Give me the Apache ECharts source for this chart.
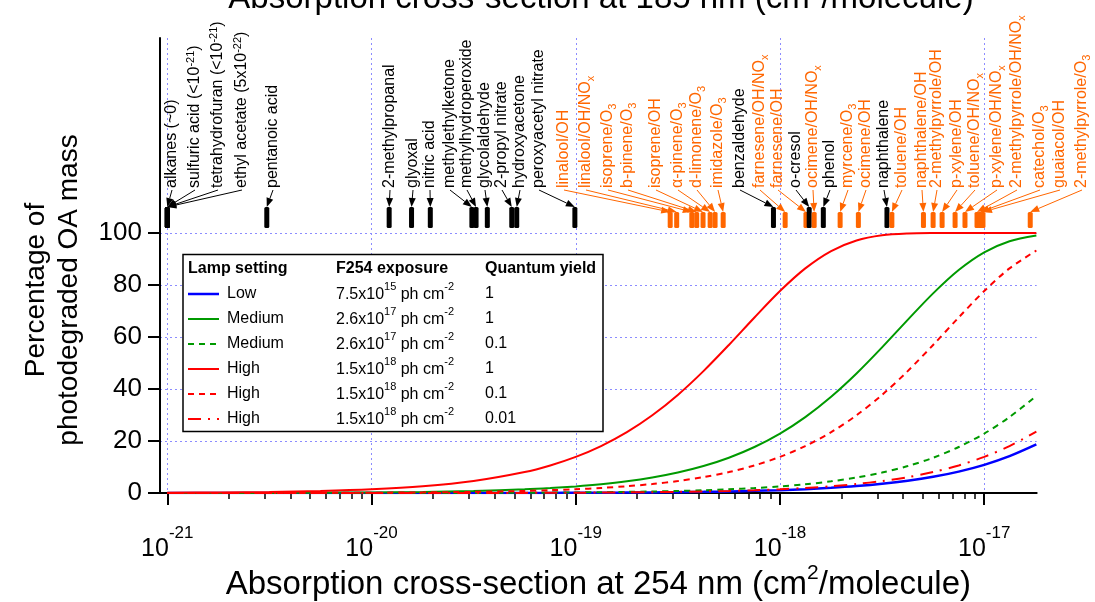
<!DOCTYPE html>
<html><head><meta charset="utf-8">
<script src="https://cdn.jsdelivr.net/npm/echarts@6/dist/echarts.min.js"></script>
<style>html,body{margin:0;padding:0;background:#fff}#c{width:1095px;height:602px}</style>
</head><body><div id="c"></div>
<script>
// ---------------- DATA ----------------
const sigma = [1.0e-21, 1.78e-21, 3.16e-21, 5.62e-21, 1.0e-20, 1.78e-20, 3.16e-20, 5.62e-20, 7.5e-20, 1.0e-19, 1.33e-19, 1.78e-19, 2.37e-19, 3.16e-19, 4.22e-19, 5.62e-19, 7.5e-19, 1.0e-18, 1.33e-18, 1.78e-18, 2.37e-18, 3.16e-18, 4.22e-18, 5.62e-18, 7.5e-18, 1.0e-17, 1.33e-17, 1.8e-17];
const lowQ1 =    [0.001, 0.002, 0.004, 0.006, 0.012, 0.02, 0.036, 0.065, 0.086, 0.11, 0.15, 0.20, 0.27, 0.36, 0.48, 0.64, 0.86, 1.14, 1.52, 2.03, 2.69, 3.57, 4.74, 6.26, 8.26, 10.86, 14.19, 18.70];
const medQ1 =    [0.03, 0.05, 0.08, 0.15, 0.26, 0.46, 0.82, 1.45, 1.93, 2.57, 3.40, 4.52, 5.98, 7.89, 10.39, 13.60, 17.72, 22.89, 29.23, 37.05, 46.00, 56.03, 66.62, 76.80, 85.77, 92.57, 96.85, 99.07];
const medQ01 =   [0.003, 0.005, 0.008, 0.015, 0.026, 0.046, 0.082, 0.15, 0.19, 0.26, 0.35, 0.46, 0.61, 0.82, 1.09, 1.45, 1.93, 2.57, 3.40, 4.52, 5.98, 7.89, 10.39, 13.59, 17.72, 22.89, 29.23, 37.37];
const highQ1 =   [0.15, 0.27, 0.47, 0.84, 1.49, 2.63, 4.63, 8.08, 10.64, 13.93, 18.09, 23.43, 29.92, 37.75, 46.90, 56.96, 67.53, 77.69, 86.40, 93.07, 97.14, 99.13, 99.82, 99.98, 100, 100, 100, 100];
const highQ01 =  [0.015, 0.027, 0.047, 0.084, 0.15, 0.27, 0.47, 0.84, 1.12, 1.49, 1.98, 2.63, 3.49, 4.63, 6.13, 8.08, 10.64, 13.93, 18.09, 23.43, 29.92, 37.75, 46.90, 56.96, 67.53, 77.69, 86.40, 93.28];
const highQ001 = [0.0015, 0.0027, 0.0047, 0.0084, 0.015, 0.027, 0.047, 0.084, 0.11, 0.15, 0.20, 0.27, 0.35, 0.47, 0.63, 0.84, 1.12, 1.49, 1.98, 2.63, 3.49, 4.63, 6.13, 8.08, 10.64, 13.93, 18.09, 23.66];

const decadeTicks = [1e-21, 1e-20, 1e-19, 1e-18, 1e-17];
const tickExponents = ['-21', '-20', '-19', '-18', '-17'];
const yTicks = [0, 20, 40, 60, 80, 100];

const legendLamp = ['Low', 'Medium', 'Medium', 'High', 'High', 'High'];
const legendExposure = ['7.5x10^{15} ph cm^{-2}', '2.6x10^{17} ph cm^{-2}', '2.6x10^{17} ph cm^{-2}', '1.5x10^{18} ph cm^{-2}', '1.5x10^{18} ph cm^{-2}', '1.5x10^{18} ph cm^{-2}'];
const legendYield = ['1', '1', '0.1', '1', '0.1', '0.01'];

const compoundNames = ['alkanes (~0)', 'sulfuric acid (<10^{-21})', 'tetrahydrofuran (<10^{-21})', 'ethyl acetate (5x10^{-22})', 'pentanoic acid',
  '2-methylpropanal', 'glyoxal', 'nitric acid', 'methylethylketone', 'methylhydroperoxide', 'glycolaldehyde', '2-propyl nitrate', 'hydroxyacetone', 'peroxyacetyl nitrate',
  'linalool/OH', 'linalool/OH/NO_x', 'isoprene/O_3', 'b-pinene/O_3', 'isoprene/OH', 'α-pinene/O_3', 'd-limonene/O_3', 'imidazole/O_3', 'benzaldehyde',
  'farnesene/OH/NO_x', 'farnesene/OH', 'o-cresol', 'ocimene/OH/NO_x', 'phenol', 'myrcene/O_3', 'ocimene/OH', 'naphthalene', 'toluene/OH', 'naphthalene/OH',
  '2-methylpyrrole/OH', 'p-xylene/OH', 'toluene/OH/NO_x', 'p-xylene/OH/NO_x', '2-methylpyrrole/OH/NO_x', 'catechol/O_3', 'guaiacol/OH', '2-methylpyrrole/O_3'];
const compoundSigma = [1.0e-21, 1.0e-21, 1.0e-21, 1.0e-21, 3.07e-21,
  1.22e-20, 1.57e-20, 1.94e-20, 3.1e-20, 3.25e-20, 3.69e-20, 4.86e-20, 5.14e-20, 9.9e-20,
  2.9e-19, 3.12e-19, 3.7e-19, 3.91e-19, 4.2e-19, 4.55e-19, 4.81e-19, 5.27e-19, 9.29e-19,
  1.06e-18, 1.34e-18, 1.39e-18, 1.47e-18, 1.63e-18, 1.97e-18, 2.42e-18, 3.34e-18, 3.53e-18, 5.04e-18,
  5.62e-18, 6.22e-18, 7.2e-18, 8.05e-18, 9.22e-18, 9.55e-18, 9.86e-18, 1.68e-17];
// G = gas-phase compound (black), S = SOA system (orange)
const compoundKind = ['G','G','G','G','G','G','G','G','G','G','G','G','G','G',
  'S','S','S','S','S','S','S','S','G','S','S','G','S','G','S','S','G','S','S','S','S','S','S','S','S','S','S'];

// ---------------- LAYOUT (annotation label columns, px) ----------------
const labelX = [172, 195, 218, 242, 273, 390, 413, 430, 450, 467, 485, 502, 520, 539,
  564, 586, 608, 628, 656, 678, 697, 718, 740, 760, 778, 796, 813, 830, 848, 866, 884, 902, 922,
  937, 957, 975, 997, 1017, 1040, 1060, 1082];

const FONT = "'Liberation Sans', Arial, sans-serif";
const ORANGE = '#FF6600';
const GRIDC = '#8c8cff';
const X_MIN = 9.21e-22, X_MAX = 1.807e-17;

const minorTicks = [];
decadeTicks.forEach(d => { for (let k = 2; k <= 9; k++) { const v = k * d; if (v <= X_MAX) minorTicks.push(v); } });

function richStr(str) {
  let out = '', re = /\^\{([^}]*)\}|_(\w)/g, last = 0, m;
  while ((m = re.exec(str))) {
    if (m.index > last) out += '{n|' + str.slice(last, m.index) + '}';
    out += m[1] !== undefined ? '{p|' + m[1] + '}' : '{s|' + m[2] + '}';
    last = re.lastIndex;
  }
  if (last < str.length) out += '{n|' + str.slice(last) + '}';
  return out;
}

const seriesDefs = [
  { values: lowQ1, color: '#0000ff', dash: 'solid', width: 2.5 },
  { values: medQ1, color: '#009a00', dash: 'solid', width: 2 },
  { values: medQ01, color: '#009a00', dash: [6, 5], width: 2 },
  { values: highQ1, color: '#ff0000', dash: 'solid', width: 2 },
  { values: highQ01, color: '#ff0000', dash: [6, 5], width: 2 },
  { values: highQ001, color: '#ff0000', dash: [13, 7, 2, 7], width: 2 }
];

const lineSeries = seriesDefs.map(d => ({
  type: 'line', xAxisIndex: 0, yAxisIndex: 0, showSymbol: false, smooth: 0.3, silent: true,
  data: sigma.map((s, i) => [s, d.values[i]]),
  lineStyle: { color: d.color, width: d.width, type: d.dash }, z: 3
}));

const labRich = {
  n: { fontSize: 16, fontFamily: FONT, lineHeight: 20, verticalAlign: 'middle' },
  s: { fontSize: 11, fontFamily: FONT, lineHeight: 11, verticalAlign: 'bottom' },
  p: { fontSize: 11, fontFamily: FONT, lineHeight: 11, verticalAlign: 'top' }
};

const annotSeries = {
  type: 'custom', xAxisIndex: 1, yAxisIndex: 1, clip: false, silent: true, z: 5,
  data: compoundSigma.map(s => [s, 0]),
  renderItem(params, api) {
    const i = params.dataIndex;
    const p = api.coord([api.value(0), 0]);
    const bx = p[0], base = p[1];
    const soa = compoundKind[i] === 'S';
    const col = soa ? ORANGE : '#000';
    const barBottom = base - 5, barTop = base - (soa ? 21 : 26);
    const lx = labelX[i], ly = base - 45;
    const sx = lx, sy = ly + 2, tx = bx, ty = barTop;
    let dx = tx - sx, dy = ty - sy; const L = Math.hypot(dx, dy) || 1; dx /= L; dy /= L;
    const AL = 9, AW = 3.5;
    const bxx = tx - dx * AL, byy = ty - dy * AL;
    const px = -dy, py = dx;
    return { type: 'group', children: [
      { type: 'rect', shape: { x: bx - 2.5, y: barTop, width: 5, height: barBottom - barTop, r: 1.5 }, style: { fill: col } },
      { type: 'line', shape: { x1: sx, y1: sy, x2: bxx, y2: byy }, style: { stroke: col, lineWidth: 1 } },
      { type: 'polygon', shape: { points: [[tx, ty], [bxx + px * AW, byy + py * AW], [bxx - px * AW, byy - py * AW]] }, style: { fill: col } },
      { type: 'text', x: lx, y: ly, rotation: Math.PI / 2,
        style: { text: richStr(compoundNames[i]), rich: labRich, fill: col, align: 'left', verticalAlign: 'middle', textAlign: 'left', textVerticalAlign: 'middle' } }
    ]};
  }
};

// ---------------- legend graphic ----------------
const LG = { x: 183, y: 254.5, w: 420, h: 177, row0: 294, dy: 25, lineX1: 188, lineX2: 219, c1: 227, c2: 336, c3: 485 };
const legRich = {
  n: { fontSize: 16, fontFamily: FONT, lineHeight: 22, verticalAlign: 'bottom' },
  p: { fontSize: 11, fontFamily: FONT, lineHeight: 11, verticalAlign: 'top' },
  s: { fontSize: 11, fontFamily: FONT, lineHeight: 11, verticalAlign: 'bottom' }
};
const gEls = [];
gEls.push({ type: 'rect', z: 100, shape: { x: LG.x, y: LG.y, width: LG.w, height: LG.h }, style: { fill: '#fff', stroke: '#000', lineWidth: 1.5 } });
[['Lamp setting', LG.x + 5], ['F254 exposure', LG.c2], ['Quantum yield', LG.c3]].forEach(h => {
  gEls.push({ type: 'text', z: 101, x: h[1], y: LG.row0 - 25, style: { text: h[0], font: 'bold 16px ' + FONT, fill: '#000', align: 'left', verticalAlign: 'middle', textAlign: 'left', textVerticalAlign: 'middle' } });
});
seriesDefs.forEach((d, i) => {
  const y = LG.row0 + i * LG.dy;
  gEls.push({ type: 'line', z: 101, shape: { x1: LG.lineX1, y1: y, x2: LG.lineX2, y2: y }, style: { stroke: d.color, lineWidth: d.width, lineDash: d.dash === 'solid' ? null : d.dash } });
  gEls.push({ type: 'text', z: 101, x: LG.c1, y: y, style: { text: legendLamp[i], font: '16px ' + FONT, fill: '#000', align: 'left', verticalAlign: 'middle', textAlign: 'left', textVerticalAlign: 'middle' } });
  gEls.push({ type: 'text', z: 101, x: LG.c2, y: y - 2, style: { text: richStr(legendExposure[i]), rich: legRich, fill: '#000', align: 'left', verticalAlign: 'middle', textAlign: 'left', textVerticalAlign: 'middle' } });
  gEls.push({ type: 'text', z: 101, x: LG.c3, y: y, style: { text: legendYield[i], font: '16px ' + FONT, fill: '#000', align: 'left', verticalAlign: 'middle', textAlign: 'left', textVerticalAlign: 'middle' } });
});
// y axis title
gEls.push({ type: 'text', z: 50, x: 53, y: 290, rotation: Math.PI / 2, style: { text: 'Percentage of\nphotodegraded OA mass', font: '28px ' + FONT, lineHeight: 33, fill: '#000', align: 'center', verticalAlign: 'middle', textAlign: 'center', textVerticalAlign: 'middle' } });
// top (cut-off) title
gEls.push({ type: 'text', z: 50, x: 601, y: -4, style: { text: '{t|Absorption cross-section at 185 nm (cm}{p|2}{t|/molecule)}', rich: { t: { fontSize: 33, fontFamily: FONT, lineHeight: 38, verticalAlign: 'bottom' }, p: { fontSize: 21, fontFamily: FONT, lineHeight: 21, verticalAlign: 'top' } }, fill: '#000', align: 'center', verticalAlign: 'middle', textAlign: 'center', textVerticalAlign: 'middle' } });

const gridSplit = { show: true, lineStyle: { color: GRIDC, width: 1, type: [2, 3] } };

const option = {
  animation: false,
  backgroundColor: '#fff',
  grid: [
    { left: 160, right: 58.3, top: 233, bottom: 108.7, containLabel: false },
    { left: 160, right: 58.3, top: 38, height: 195, containLabel: false }
  ],
  xAxis: [
    { type: 'log', gridIndex: 0, min: X_MIN, max: X_MAX, position: 'bottom',
      axisLine: { show: true, lineStyle: { color: '#000', width: 2 } },
      axisTick: { show: true, length: 12, inside: false, lineStyle: { color: '#000', width: 2 }, customValues: decadeTicks },
      axisLabel: { show: true, margin: 32, customValues: decadeTicks, color: '#000',
        formatter: v => { const i = decadeTicks.findIndex(d => Math.abs(Math.log10(d / v)) < 1e-6); return '{b|10}{s|' + (i >= 0 ? tickExponents[i] : '') + '}'; },
        rich: { b: { fontSize: 25, fontFamily: FONT, lineHeight: 37, verticalAlign: 'bottom', color: '#000' }, s: { fontSize: 17, fontFamily: FONT, lineHeight: 17, verticalAlign: 'top', color: '#000' } } },
      splitLine: gridSplit,
      name: '{t|Absorption cross-section at 254 nm (cm}{p|2}{t|/molecule)}', nameLocation: 'middle', nameGap: 66,
      nameTextStyle: { rich: { t: { fontSize: 33, fontFamily: FONT, lineHeight: 38, verticalAlign: 'bottom', color: '#000' }, p: { fontSize: 21, fontFamily: FONT, lineHeight: 21, verticalAlign: 'top', color: '#000' } } }
    },
    { type: 'log', gridIndex: 1, min: X_MIN, max: X_MAX, position: 'bottom',
      axisLine: { show: false }, axisTick: { show: false, customValues: decadeTicks }, axisLabel: { show: false, customValues: decadeTicks },
      splitLine: gridSplit },
    { type: 'log', gridIndex: 0, min: X_MIN, max: X_MAX, position: 'bottom',
      axisLine: { show: false }, axisLabel: { show: false }, splitLine: { show: false },
      axisTick: { show: true, length: 6, inside: false, lineStyle: { color: '#000', width: 1.5 }, customValues: minorTicks } }
  ],
  yAxis: [
    { type: 'value', gridIndex: 0, min: 0, max: 100, interval: 20,
      axisLine: { show: true, lineStyle: { color: '#000', width: 2 } },
      axisTick: { show: true, length: 12, inside: false, lineStyle: { color: '#000', width: 2 } },
      axisLabel: { show: true, margin: 18, fontSize: 26, fontFamily: FONT, color: '#000', customValues: yTicks },
      splitLine: gridSplit },
    { type: 'value', gridIndex: 1, min: 0, max: 1,
      axisLine: { show: true, lineStyle: { color: '#000', width: 2 } },
      axisTick: { show: false }, axisLabel: { show: false }, splitLine: { show: false } }
  ],
  graphic: { elements: gEls },
  series: lineSeries.concat([annotSeries])
};

const chart = echarts.init(document.getElementById('c'), null, { renderer: 'canvas' });
chart.setOption(option);
</script>
</body></html>
